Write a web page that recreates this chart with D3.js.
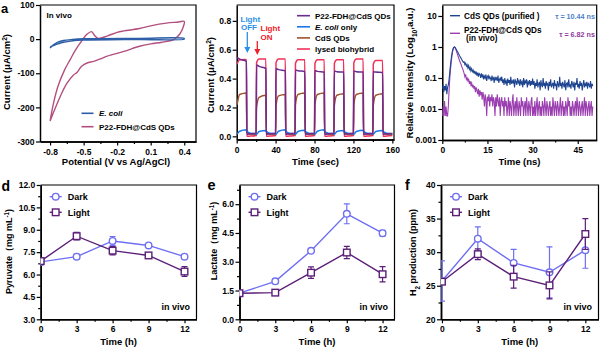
<!DOCTYPE html>
<html>
<head>
<meta charset="utf-8">
<script src="https://cdn.jsdelivr.net/npm/d3@7"></script>
<style>
body { margin: 0; background: #fff; }
svg { display: block; }
</style>
</head>
<body>
<svg id="fig" width="600" height="351"></svg>
<script>
// ---------- data ----------
// a: cyclic voltammetry (V vs Ag/AgCl, uA/cm2)
var cvEcoliV = [-0.8,-0.77,-0.73,-0.68,-0.6,-0.5,0,0.4,0.4,0,-0.5,-0.6,-0.68,-0.73,-0.77,-0.8];
var cvEcoliI = [-26,-17,-9,-4,-1,1,2,2,0,-1,-3,-5,-9,-14,-19,-23];
var cvP22V = [-0.8,-0.77,-0.73,-0.67,-0.62,-0.58,-0.53,-0.47,-0.43,-0.4,-0.37,-0.29,-0.2,-0.14,0,0.1,0.24,0.35,0.4,0.39,
              0.36,0.32,0.3,0.2,0.1,0,-0.14,-0.29,-0.35,-0.41,-0.47,-0.52,-0.56,-0.59,-0.65,-0.71,-0.8];
var cvP22I = [-240,-189,-139,-90,-60,-36,-11,14,22,10,2,9,20,24,31,39,47,50,52,35,
              15,2,-2,-9,-14,-21,-36,-50,-58,-65,-70,-80,-98,-105,-130,-169,-240];
var aXTicks = [-0.8,-0.5,-0.2,0.1,0.4], aXMinor = [-0.65,-0.35,-0.05,0.25];
var aYTicks = [100,0,-100,-200,-300];

// b: photocurrent, light on 10 s every 20 s
var bPulseOn = [0,20,40,60,80,100,120,140];
var bP22Start = [0.545,0.495,0.47,0.46,0.455,0.452,0.452,0.448];
var bP22Knee  = [0.535,0.485,0.462,0.455,0.45,0.448,0.448,0.445];
var bP22End   = [0.52,0.47,0.455,0.448,0.445,0.445,0.445,0.442];
var bP22Off   = [0.015,0.018,0.02];
var bLysStart = [0.5,0.51,0.51,0.505,0.505,0.505,0.51,0.5];
var bLysKnee  = [0.53,0.535,0.535,0.53,0.53,0.53,0.535,0.525];
var bLysEnd   = [0.532,0.535,0.535,0.53,0.53,0.53,0.535,0.525];
var bLysOff   = [0.0,0.002,0.005];
var bCdsStart = [0.22,0.2,0.21,0.22,0.22,0.215,0.22,0.215];
var bCdsKnee  = [0.29,0.27,0.28,0.29,0.29,0.285,0.29,0.285];
var bCdsEnd   = [0.3,0.285,0.29,0.3,0.3,0.295,0.3,0.295];
var bCdsOff   = [0.03,0.015,0.012];
var bEcoStart = [0.015,0.015,0.015,0.015,0.015,0.015,0.015,0.015];
var bEcoKnee  = [0.035,0.033,0.035,0.034,0.035,0.033,0.034,0.033];
var bEcoEnd   = [0.045,0.04,0.045,0.042,0.045,0.04,0.042,0.04];
var bEcoOff   = [0.035,0.022,0.018];
var bXTicks = [0,40,80,120,160], bXMinor = [20,60,100,140];
var bYTicks = [0,0.2,0.4,0.6,0.8];

// c: time-resolved PL, 0.25 ns steps from 0 to 50 ns
var cCdS = [0.045,0.06,0.035,0.055,0.04,0.065,0.03,0.05,0.06,
  0.09,0.16,0.28,0.45,0.65,0.84,0.96,1.0,0.97,0.88,
  0.8,0.72,0.65,0.58,0.52,0.47,0.43,0.39,0.35,0.32,
  0.33,0.27,0.3,0.24,0.27,0.21,0.25,0.19,0.22,0.17,0.2,0.16,
  0.18,0.14,0.17,0.13,0.16,0.12,0.15,0.11,0.14,0.13,0.1,0.14,
  0.11,0.13,0.09,0.12,0.1,0.13,0.08,0.11,0.12,0.09,0.11,0.1,
  0.08,0.12,0.09,0.1,0.07,0.11,0.09,0.1,0.08,0.12,0.07,0.09,0.1,0.08,0.11,0.07,
  0.09,0.06,0.1,0.07,0.08,0.055,0.095,0.07,0.085,0.06,
  0.11,0.065,0.08,0.07,0.09,0.05,0.085,0.075,0.06,0.1,
  0.07,0.08,0.055,0.09,0.065,0.075,0.05,0.1,0.06,0.08,
  0.07,0.09,0.05,0.075,0.065,0.085,0.055,0.08,0.06,0.095,
  0.06,0.08,0.045,0.07,0.055,0.09,0.05,0.065,0.075,0.04,
  0.085,0.06,0.05,0.1,0.055,0.07,0.045,0.08,0.06,0.065,
  0.04,0.075,0.055,0.09,0.05,0.06,0.07,0.045,0.085,0.055,
  0.065,0.04,0.08,0.06,0.05,0.11,0.055,0.07,0.045,0.075,
  0.06,0.05,0.085,0.04,0.065,0.07,0.05,0.09,0.055,0.06,
  0.045,0.08,0.065,0.05,0.075,0.04,0.07,0.06,0.1,0.05,
  0.065,0.045,0.08,0.055,0.07,0.04,0.06,0.085,0.05,0.065,
  0.055,0.075,0.045,0.07,0.06,0.05,0.08,0.045,0.065,0.055];
var cP22 = [0.006,0.012,0.006,0.018,0.006,0.012,0.006,0.006,0.012,
  0.04,0.1,0.2,0.35,0.55,0.78,0.93,1.0,0.95,0.84,
  0.7,0.6,0.5,0.42,0.36,0.31,0.27,0.23,0.2,0.17,
  0.14,0.11,0.13,0.09,0.1,0.08,0.09,0.065,0.08,0.06,0.07,0.05,
  0.06,0.045,0.055,0.035,0.05,0.04,0.03,0.045,0.025,0.04,0.03,0.035,
  0.02,0.035,0.025,0.012,0.03,0.02,0.006,0.025,0.018,0.03,0.012,0.024,
  0.018,0.03,0.012,0.024,0.018,0.006,0.024,0.012,0.03,0.018,0.012,0.024,0.006,0.018,0.024,0.012,
  0.018,0.006,0.024,0.012,0.018,0.006,0.012,0.024,0.006,0.018,
  0.012,0.006,0.018,0.03,0.006,0.012,0.018,0.006,0.024,0.012,
  0.006,0.018,0.012,0.006,0.024,0.012,0.018,0.006,0.012,0.018,
  0.006,0.024,0.012,0.006,0.018,0.012,0.006,0.018,0.024,0.006,
  0.012,0.006,0.018,0.006,0.012,0.024,0.006,0.012,0.018,0.006,
  0.012,0.006,0.018,0.012,0.006,0.024,0.012,0.006,0.018,0.012,
  0.006,0.012,0.018,0.006,0.012,0.006,0.024,0.012,0.006,0.018,
  0.012,0.006,0.018,0.012,0.006,0.012,0.024,0.006,0.012,0.018,
  0.006,0.012,0.006,0.018,0.012,0.006,0.024,0.012,0.018,0.006,
  0.012,0.006,0.018,0.012,0.006,0.012,0.018,0.006,0.024,0.012,
  0.006,0.018,0.012,0.006,0.012,0.018,0.006,0.012,0.024,0.006,
  0.018,0.012,0.006,0.012,0.018,0.006,0.012,0.018,0.006,0.012];
var cXTicks = [0,15,30,45], cXMinor = [7.5,22.5,37.5];
var cYTicks = [0.001,0.01,0.1,1,10];

// d, e, f: metabolites vs time
var hours = [0,3,6,9,12];
var pyrDark = [6.85,7.2,8.25,7.95,7.2],   pyrDarkErr = [0.22,0.15,0.3,0.12,0.1];
var pyrLight = [6.9,8.57,7.6,7.28,6.2],   pyrLightErr = [0.2,0.25,0.28,0.15,0.33];
var lacDark = [1.36,1.98,3.57,5.5,4.49],  lacDarkErr = [0.1,0.12,0.08,0.52,0.15];
var lacLight = [1.36,1.39,2.43,3.48,2.35], lacLightErr = [0.1,0.15,0.3,0.32,0.4];
var h2Dark = [25.7,32.0,28.4,27.0,30.3],  h2DarkErr = [3.0,1.75,2.0,3.8,2.7];
var h2Light = [25.6,29.7,26.35,25.05,32.7], h2LightErr = [0.4,0.8,1.7,2.0,2.3];
var hXTicks = [0,3,6,9,12], hXMinor = [1.5,4.5,7.5,10.5];
var dYTicks = [3,4.5,6,7.5,9,10.5,12], dYMinor = [3.75,5.25,6.75,8.25,9.75,11.25];
var eYTicks = [0,1.5,3,4.5,6], eYMinor = [0.75,2.25,3.75,5.25,6.75];
var fYTicks = [20,25,30,35,40], fYMinor = [22.5,27.5,32.5,37.5];

// ---------- drawing ----------
var FONT = '"Liberation Sans", Arial, Helvetica, sans-serif';
var svg = d3.select("#fig");
svg.append("rect").attr("width",600).attr("height",351).attr("fill","#fff");
var defs = svg.append("defs");

var colDark = "#6f6ff2", colLight = "#5c1f78";

function txt(x, y, parts, size, opt) {
  opt = opt || {};
  var t = svg.append("text")
    .attr("font-family", FONT).attr("font-weight", "bold")
    .attr("font-size", size).attr("fill", opt.fill || "#000")
    .attr("text-anchor", opt.anchor || "start");
  if (opt.rotate) t.attr("transform", "translate(" + x + "," + y + ") rotate(-90)");
  else t.attr("x", x).attr("y", y);
  if (typeof parts === "string") parts = [[parts]];
  parts.forEach(function(p) {
    var ts = t.append("tspan").text(p[0]);
    if (p[1] == "sup") ts.attr("baseline-shift", "super").attr("font-size", "70%");
    if (p[1] == "sub") ts.attr("baseline-shift", "sub").attr("font-size", "70%");
    if (p[1] == "i") ts.attr("font-style", "italic");
  });
  return t;
}

function panel(id, box, x, y, o) {
  var g = svg.append("g");
  defs.append("clipPath").attr("id", "clip-" + id).append("rect")
    .attr("x", box.l).attr("y", box.t).attr("width", box.r - box.l).attr("height", box.b - box.t);
  g.append("g").attr("transform", "translate(0," + box.b + ")")
    .call(d3.axisBottom(x).tickValues(o.xt).tickFormat(o.xf).tickSize(4).tickPadding(3).tickSizeOuter(0));
  g.append("g").attr("transform", "translate(" + box.l + ",0)")
    .call(d3.axisLeft(y).tickValues(o.yt).tickFormat(o.yf).tickSize(4).tickPadding(1.5).tickSizeOuter(0));
  if (o.xm) g.append("g").attr("transform", "translate(0," + box.b + ")")
    .call(d3.axisBottom(x).tickValues(o.xm).tickFormat("").tickSize(2.5).tickSizeOuter(0));
  if (o.ym) g.append("g").attr("transform", "translate(" + box.l + ",0)")
    .call(d3.axisLeft(y).tickValues(o.ym).tickFormat("").tickSize(2.5).tickSizeOuter(0));
  g.selectAll("g").attr("font-family", FONT).attr("font-size", 8.5).attr("font-weight", "bold");
  g.selectAll(".tick text").attr("fill", "#000");
  g.selectAll(".domain").attr("stroke-width", 1.5);
  g.selectAll(".tick line").attr("stroke-width", 1.2);
  g.append("path").attr("fill", "none").attr("stroke", "#000").attr("stroke-width", 1.2)
    .attr("d", "M" + box.l + "," + box.t + "H" + box.r + "V" + box.b);
  return svg.append("g").attr("clip-path", "url(#clip-" + id + ")");
}

// ----- a -----
var boxA = {l: 40, r: 196, t: 5, b: 141.5};
var xA = d3.scaleLinear().domain([-0.89, 0.505]).range([boxA.l, boxA.r]);
var yA = d3.scaleLinear().domain([-300, 100]).range([boxA.b, boxA.t]);
var pA = panel("a", boxA, xA, yA, {xt: aXTicks, xf: String, xm: aXMinor, yt: aYTicks, yf: String});
var lineA = d3.line().x(function(d){ return xA(d[0]); }).y(function(d){ return yA(d[1]); }).curve(d3.curveCatmullRom.alpha(0.5));
pA.append("path").attr("d", lineA(d3.zip(cvP22V, cvP22I))).attr("fill", "none").attr("stroke", "#b34f7f").attr("stroke-width", 1.4);
pA.append("path").attr("d", lineA(d3.zip(cvEcoliV, cvEcoliI))).attr("fill", "none").attr("stroke", "#2e5ea8").attr("stroke-width", 1.4);
txt(46.5, 18, "In vivo", 8);
[["#2e5ea8", [["E. coli", "i"]], 113.3], ["#b34f7f", [["P22-FDH@CdS QDs"]], 126.7]].forEach(function(e) {
  svg.append("line").attr("x1", 81.5).attr("x2", 93.5).attr("y1", e[2]).attr("y2", e[2]).attr("stroke", e[0]).attr("stroke-width", 1.6);
  txt(99, e[2] + 3, e[1], 8);
});
txt(10, 72, [["Current (μA/cm"], ["2", "sup"], [")"]], 9.5, {rotate: true, anchor: "middle"});
txt(116, 164.5, "Potential (V vs Ag/AgCl)", 9.5, {anchor: "middle"});
txt(1, 12.5, "a", 13);

// ----- b -----
var boxB = {l: 236.7, r: 394, t: 5, b: 139.5};
var xB = d3.scaleLinear().domain([0, 161.7]).range([boxB.l, boxB.r]);
var yB = d3.scaleLinear().domain([-0.022, 0.91]).range([boxB.b, boxB.t]);
var pB = panel("b", boxB, xB, yB, {xt: bXTicks, xf: String, xm: bXMinor, yt: bYTicks, yf: d3.format(".1f")});
function pulses(start, knee, end, off) {
  var pts = [];
  bPulseOn.forEach(function(t0, i) {
    if (i > 0) pts.push([t0, off[2]]);
    pts.push([t0 + 0.4, start[i]], [t0 + 3, knee[i]], [t0 + 10, end[i]],
             [t0 + 10.4, off[0]], [t0 + 14, off[1]], [t0 + 20, off[2]]);
  });
  return pts;
}
var lineB = d3.line().x(function(d){ return xB(d[0]); }).y(function(d){ return yB(d[1]); }).curve(d3.curveMonotoneX);
var bSeries = [
  {name: [["P22-FDH@CdS QDs"]], col: "#6b2c91", pts: pulses(bP22Start, bP22Knee, bP22End, bP22Off)},
  {name: [["E. coli", "i"], [" only"]], col: "#1a78e6", pts: pulses(bEcoStart, bEcoKnee, bEcoEnd, bEcoOff)},
  {name: [["CdS QDs"]], col: "#a0522d", pts: pulses(bCdsStart, bCdsKnee, bCdsEnd, bCdsOff)},
  {name: [["lysed biohybrid"]], col: "#f0325a", pts: pulses(bLysStart, bLysKnee, bLysEnd, bLysOff)}
];
[3, 2, 1, 0].forEach(function(k) {
  var s = bSeries[k];
  pB.append("path").attr("d", lineB(s.pts)).attr("fill", "none").attr("stroke", s.col).attr("stroke-width", 1.5);
});
bSeries.forEach(function(s, i) {
  var yy = 15.7 + i * 11.1;
  svg.append("line").attr("x1", 297).attr("x2", 310).attr("y1", yy).attr("y2", yy).attr("stroke", s.col).attr("stroke-width", 1.6);
  txt(315, yy + 3, s.name, 8);
});
txt(240.5, 21.5, "Light", 8, {fill: "#2a8fe6"});
txt(241, 29.5, "OFF", 8, {fill: "#2a8fe6"});
txt(260.5, 31, "Light", 8, {fill: "#f0202a"});
txt(260.5, 39.5, "ON", 8, {fill: "#f0202a"});
function arrow(x, y1, y2, c) {
  svg.append("line").attr("x1", x).attr("x2", x).attr("y1", y1).attr("y2", y2 - 5).attr("stroke", c).attr("stroke-width", 1.3);
  svg.append("path").attr("d", "M" + (x - 3) + "," + (y2 - 6) + "L" + (x + 3) + "," + (y2 - 6) + "L" + x + "," + y2 + "Z").attr("fill", c);
}
arrow(247.3, 32, 53, "#2a8fe6");
arrow(257.3, 41, 55, "#f0202a");
txt(214, 75, [["Current (μA/cm"], ["2", "sup"], [")"]], 9.5, {rotate: true, anchor: "middle"});
txt(315.5, 164.5, "Time (sec)", 9.5, {anchor: "middle"});

// ----- c -----
var boxC = {l: 442.3, r: 596.7, t: 5, b: 140};
var xC = d3.scaleLinear().domain([0, 51.3]).range([boxC.l, boxC.r]);
var yC = d3.scaleLog().domain([0.001, 22.6]).range([boxC.b, boxC.t]);
var pC = panel("c", boxC, xC, yC, {xt: cXTicks, xf: String, xm: cXMinor, yt: cYTicks, yf: String});
var cTime = d3.range(0, 50.001, 0.25);
var lineC = d3.line().x(function(d){ return xC(d[0]); }).y(function(d){ return yC(d[1]); });
pC.append("path").attr("d", lineC(d3.zip(cTime, cP22))).attr("fill", "none").attr("stroke", "#9b3fb0").attr("stroke-width", 1.1);
pC.append("path").attr("d", lineC(d3.zip(cTime, cCdS))).attr("fill", "none").attr("stroke", "#1f4591").attr("stroke-width", 1.1);
svg.append("line").attr("x1", 450).attr("x2", 460).attr("y1", 15.7).attr("y2", 15.7).attr("stroke", "#1f4591").attr("stroke-width", 1.4);
svg.append("line").attr("x1", 450).attr("x2", 460).attr("y1", 33.3).attr("y2", 33.3).attr("stroke", "#9b3fb0").attr("stroke-width", 1.4);
txt(464, 19, "CdS QDs (purified )", 8.2);
txt(464, 33, "P22-FDH@CdS QDs", 8.2);
txt(466, 41, "(in vivo)", 8.2);
txt(595, 18.5, "τ = 10.44 ns", 7.2, {anchor: "end", fill: "#4d7fc9"});
txt(595, 36.5, "τ = 6.82 ns", 7.2, {anchor: "end", fill: "#8e3a9d"});
txt(413, 73, [["Relative Intensity (Log"], ["10", "sub"], [",a.u.)"]], 9.5, {rotate: true, anchor: "middle"});
txt(519.5, 164.5, "Time (ns)", 9.5, {anchor: "middle"});

// ----- d, e, f -----
function marker(g, cx, cy, col, shape) {
  if (shape == "c") g.append("circle").attr("cx", cx).attr("cy", cy).attr("r", 3.3)
    .attr("fill", "#fff").attr("stroke", col).attr("stroke-width", 1.4);
  else g.append("rect").attr("x", cx - 3.3).attr("y", cy - 3.3).attr("width", 6.6).attr("height", 6.6)
    .attr("fill", "#fff").attr("stroke", col).attr("stroke-width", 1.4);
}
function timePanel(id, box, xDom, yDom, yt, ym, yf, dark, darkErr, light, lightErr) {
  var x = d3.scaleLinear().domain(xDom).range([box.l, box.r]);
  var y = d3.scaleLinear().domain(yDom).range([box.b, box.t]);
  var p = panel(id, box, x, y, {xt: hXTicks, xf: String, xm: hXMinor, yt: yt, yf: yf, ym: ym});
  var line = d3.line().x(function(d){ return x(d[0]); }).y(function(d){ return y(d[1]); });
  [[dark, darkErr, colDark, "c"], [light, lightErr, colLight, "s"]].forEach(function(s) {
    var pts = d3.zip(hours, s[0], s[1]);
    p.append("path").attr("d", line(pts)).attr("fill", "none").attr("stroke", s[2]).attr("stroke-width", 1.4);
    pts.forEach(function(d) {
      var cx = x(d[0]), y1 = y(d[1] - d[2]), y2 = y(d[1] + d[2]);
      p.append("path").attr("d", "M" + cx + "," + y1 + "V" + y2 + "M" + (cx - 3) + "," + y1 + "H" + (cx + 3) + "M" + (cx - 3) + "," + y2 + "H" + (cx + 3))
        .attr("fill", "none").attr("stroke", s[2]).attr("stroke-width", 1.2);
    });
    pts.forEach(function(d) { marker(p, x(d[0]), y(d[1]), s[2], s[3]); });
  });
  [["Dark", colDark, "c", 196.7], ["Light", colLight, "s", 212.3]].forEach(function(e) {
    svg.append("line").attr("x1", box.l + 9).attr("x2", box.l + 21).attr("y1", e[3]).attr("y2", e[3]).attr("stroke", e[1]).attr("stroke-width", 1.4);
    marker(svg, box.l + 15, e[3], e[1], e[2]);
    txt(box.l + 27, e[3] + 3.3, e[0], 9);
  });
  txt(box.r - 6.5, 310, "in vivo", 9, {anchor: "end"});
  txt((box.l + box.r) / 2, 345, "Time (h)", 9.5, {anchor: "middle"});
}

timePanel("d", {l: 40.7, r: 196.5, t: 185, b: 319.3}, [0, 13], [3, 12], dYTicks, dYMinor, d3.format(".1f"),
  pyrDark, pyrDarkErr, pyrLight, pyrLightErr);
timePanel("e", {l: 239.5, r: 394.5, t: 185, b: 319.3}, [0, 13], [0, 7], eYTicks, eYMinor, d3.format(".1f"),
  lacDark, lacDarkErr, lacLight, lacLightErr);
timePanel("f", {l: 441, r: 598.5, t: 185, b: 319.3}, [-0.08, 13.1], [20, 40], fYTicks, fYMinor, String,
  h2Dark, h2DarkErr, h2Light, h2LightErr);

txt(11.5, 251.5, [["Pyruvate（mg mL"], ["-1", "sup"], [")"]], 9, {rotate: true, anchor: "middle"});
txt(216.5, 241, [["Lactate（mg mL"], ["-1", "sup"], [")"]], 9, {rotate: true, anchor: "middle"});
txt(416, 252.5, [["H"], ["2", "sub"], [" production (ppm)"]], 9, {rotate: true, anchor: "middle"});
txt(1.5, 190.5, "d", 14);
txt(207.5, 189.5, "e", 14.5);
txt(405, 190, "f", 14);
</script>
</body>
</html>
